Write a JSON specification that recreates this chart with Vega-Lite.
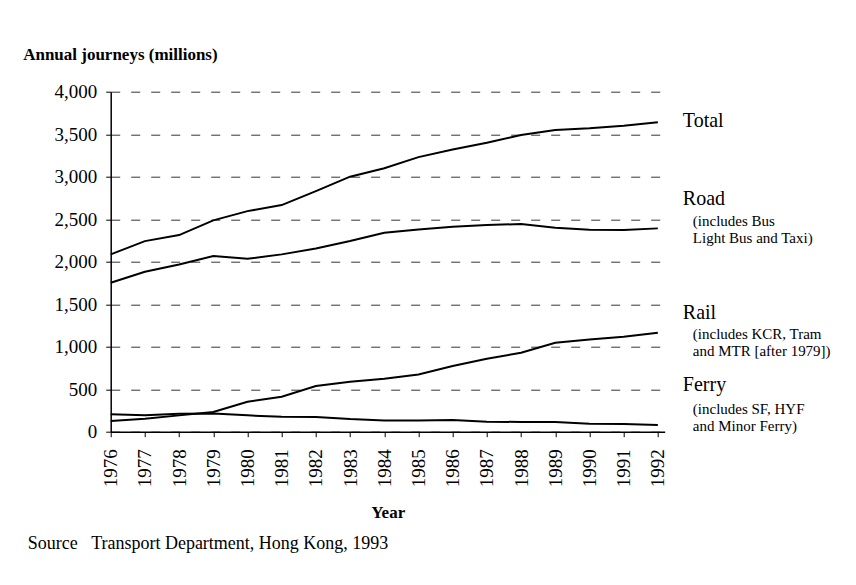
{
  "$schema": "https://vega.github.io/schema/vega-lite/v6.json",
  "width": 554,
  "height": 340,
  "autosize": {"type": "none"},
  "padding": {"left": 110.7, "top": 91.7, "right": 191.3, "bottom": 153},
  "background": "white",
  "config": {"view": {"stroke": null}, "font": "Liberation Serif"},
  "title": {
    "text": "Source\u00a0\u00a0\u00a0Transport Department, Hong Kong, 1993",
    "orient": "bottom", "anchor": "start", "frame": "group",
    "font": "Liberation Serif", "fontSize": 18, "fontWeight": "normal",
    "color": "black", "dx": -83, "offset": 14
  },
  "datasets": {
    "journeys": [
      {"year": 1976, "series": "Total", "value": 2086},
      {"year": 1977, "series": "Total", "value": 2242},
      {"year": 1978, "series": "Total", "value": 2313},
      {"year": 1979, "series": "Total", "value": 2486},
      {"year": 1980, "series": "Total", "value": 2595},
      {"year": 1981, "series": "Total", "value": 2666},
      {"year": 1982, "series": "Total", "value": 2831},
      {"year": 1983, "series": "Total", "value": 3000},
      {"year": 1984, "series": "Total", "value": 3100},
      {"year": 1985, "series": "Total", "value": 3230},
      {"year": 1986, "series": "Total", "value": 3320},
      {"year": 1987, "series": "Total", "value": 3400},
      {"year": 1988, "series": "Total", "value": 3490},
      {"year": 1989, "series": "Total", "value": 3550},
      {"year": 1990, "series": "Total", "value": 3570},
      {"year": 1991, "series": "Total", "value": 3600},
      {"year": 1992, "series": "Total", "value": 3640},
      {"year": 1976, "series": "Road", "value": 1753},
      {"year": 1977, "series": "Road", "value": 1882},
      {"year": 1978, "series": "Road", "value": 1968},
      {"year": 1979, "series": "Road", "value": 2066},
      {"year": 1980, "series": "Road", "value": 2035},
      {"year": 1981, "series": "Road", "value": 2086},
      {"year": 1982, "series": "Road", "value": 2156},
      {"year": 1983, "series": "Road", "value": 2243},
      {"year": 1984, "series": "Road", "value": 2341},
      {"year": 1985, "series": "Road", "value": 2380},
      {"year": 1986, "series": "Road", "value": 2412},
      {"year": 1987, "series": "Road", "value": 2431},
      {"year": 1988, "series": "Road", "value": 2443},
      {"year": 1989, "series": "Road", "value": 2400},
      {"year": 1990, "series": "Road", "value": 2376},
      {"year": 1991, "series": "Road", "value": 2372},
      {"year": 1992, "series": "Road", "value": 2392},
      {"year": 1976, "series": "Rail", "value": 125},
      {"year": 1977, "series": "Rail", "value": 152},
      {"year": 1978, "series": "Rail", "value": 192},
      {"year": 1979, "series": "Rail", "value": 231},
      {"year": 1980, "series": "Rail", "value": 353},
      {"year": 1981, "series": "Rail", "value": 412},
      {"year": 1982, "series": "Rail", "value": 537},
      {"year": 1983, "series": "Rail", "value": 588},
      {"year": 1984, "series": "Rail", "value": 624},
      {"year": 1985, "series": "Rail", "value": 674},
      {"year": 1986, "series": "Rail", "value": 772},
      {"year": 1987, "series": "Rail", "value": 859},
      {"year": 1988, "series": "Rail", "value": 929},
      {"year": 1989, "series": "Rail", "value": 1047},
      {"year": 1990, "series": "Rail", "value": 1086},
      {"year": 1991, "series": "Rail", "value": 1118},
      {"year": 1992, "series": "Rail", "value": 1165},
      {"year": 1976, "series": "Ferry", "value": 204},
      {"year": 1977, "series": "Ferry", "value": 192},
      {"year": 1978, "series": "Ferry", "value": 211},
      {"year": 1979, "series": "Ferry", "value": 215},
      {"year": 1980, "series": "Ferry", "value": 192},
      {"year": 1981, "series": "Ferry", "value": 176},
      {"year": 1982, "series": "Ferry", "value": 172},
      {"year": 1983, "series": "Ferry", "value": 148},
      {"year": 1984, "series": "Ferry", "value": 133},
      {"year": 1985, "series": "Ferry", "value": 133},
      {"year": 1986, "series": "Ferry", "value": 137},
      {"year": 1987, "series": "Ferry", "value": 118},
      {"year": 1988, "series": "Ferry", "value": 114},
      {"year": 1989, "series": "Ferry", "value": 114},
      {"year": 1990, "series": "Ferry", "value": 94},
      {"year": 1991, "series": "Ferry", "value": 90},
      {"year": 1992, "series": "Ferry", "value": 78}
    ],
    "titles": [
      {"year": 1992, "name": "Total", "value": 3579},
      {"year": 1992, "name": "Road", "value": 2662},
      {"year": 1992, "name": "Rail", "value": 1321},
      {"year": 1992, "name": "Ferry", "value": 475}
    ],
    "notes": [
      {"year": 1992, "note": "(includes Bus\nLight Bus and Taxi)", "value": 2415},
      {"year": 1992, "note": "(includes KCR, Tram\nand MTR [after 1979])", "value": 1086},
      {"year": 1992, "note": "(includes SF, HYF\nand Minor Ferry)", "value": 203}
    ]
  },
  "encoding": {
    "x": {
      "field": "year", "type": "quantitative",
      "scale": {"domain": [1976, 1992.2], "nice": false, "zero": false},
      "axis": {
        "title": "Year", "values": [1976,1977,1978,1979,1980,1981,1982,1983,1984,1985,1986,1987,1988,1989,1990,1991,1992],
        "format": "d", "labelAngle": -90, "labelFont": "Liberation Serif", "labelFontSize": 19,
        "labelColor": "black", "labelPadding": 12, "tickSize": 5, "tickColor": "black",
        "domainColor": "black", "domainWidth": 1.5, "grid": false,
        "titleFont": "Liberation Serif", "titleFontSize": 17, "titleFontWeight": "bold",
        "titleColor": "black", "titlePadding": 18, "labelOverlap": false, "labelFlush": false
      }
    },
    "y": {
      "field": "value", "type": "quantitative",
      "scale": {"domain": [0, 4000], "nice": false},
      "axis": {
        "title": "Annual journeys (millions)",
        "values": [0,500,1000,1500,2000,2500,3000,3500,4000],
        "format": ",d", "labelFont": "Liberation Serif", "labelFontSize": 19, "labelColor": "black",
        "labelPadding": 9, "tickSize": 5, "tickColor": "black",
        "domainColor": "black", "domainWidth": 1.5, "labelOverlap": false, "labelFlush": false,
        "grid": true, "gridDash": [9, 11], "gridColor": "black", "gridWidth": 0.8,
        "titleAngle": 0, "titleAlign": "left", "titleBaseline": "alphabetic",
        "titleX": -88, "titleY": -32, "titleFont": "Liberation Serif", "titleFontSize": 17,
        "titleFontWeight": "bold", "titleColor": "black"
      }
    }
  },
  "layer": [
    {
      "data": {"name": "journeys"},
      "mark": {"type": "line", "color": "black", "strokeWidth": 2},
      "encoding": {
        "detail": {"field": "series"}
      }
    },
    {
      "data": {"name": "titles"},
      "mark": {"type": "text", "align": "left", "baseline": "alphabetic", "dx": 25, "fontSize": 20, "color": "black", "font": "Liberation Serif"},
      "encoding": {
        "text": {"field": "name"}
      }
    },
    {
      "data": {"name": "notes"},
      "mark": {"type": "text", "align": "left", "baseline": "alphabetic", "dx": 35, "fontSize": 15, "lineHeight": 17, "lineBreak": "\n", "color": "black", "font": "Liberation Serif"},
      "encoding": {
        "text": {"field": "note"}
      }
    }
  ]
}
